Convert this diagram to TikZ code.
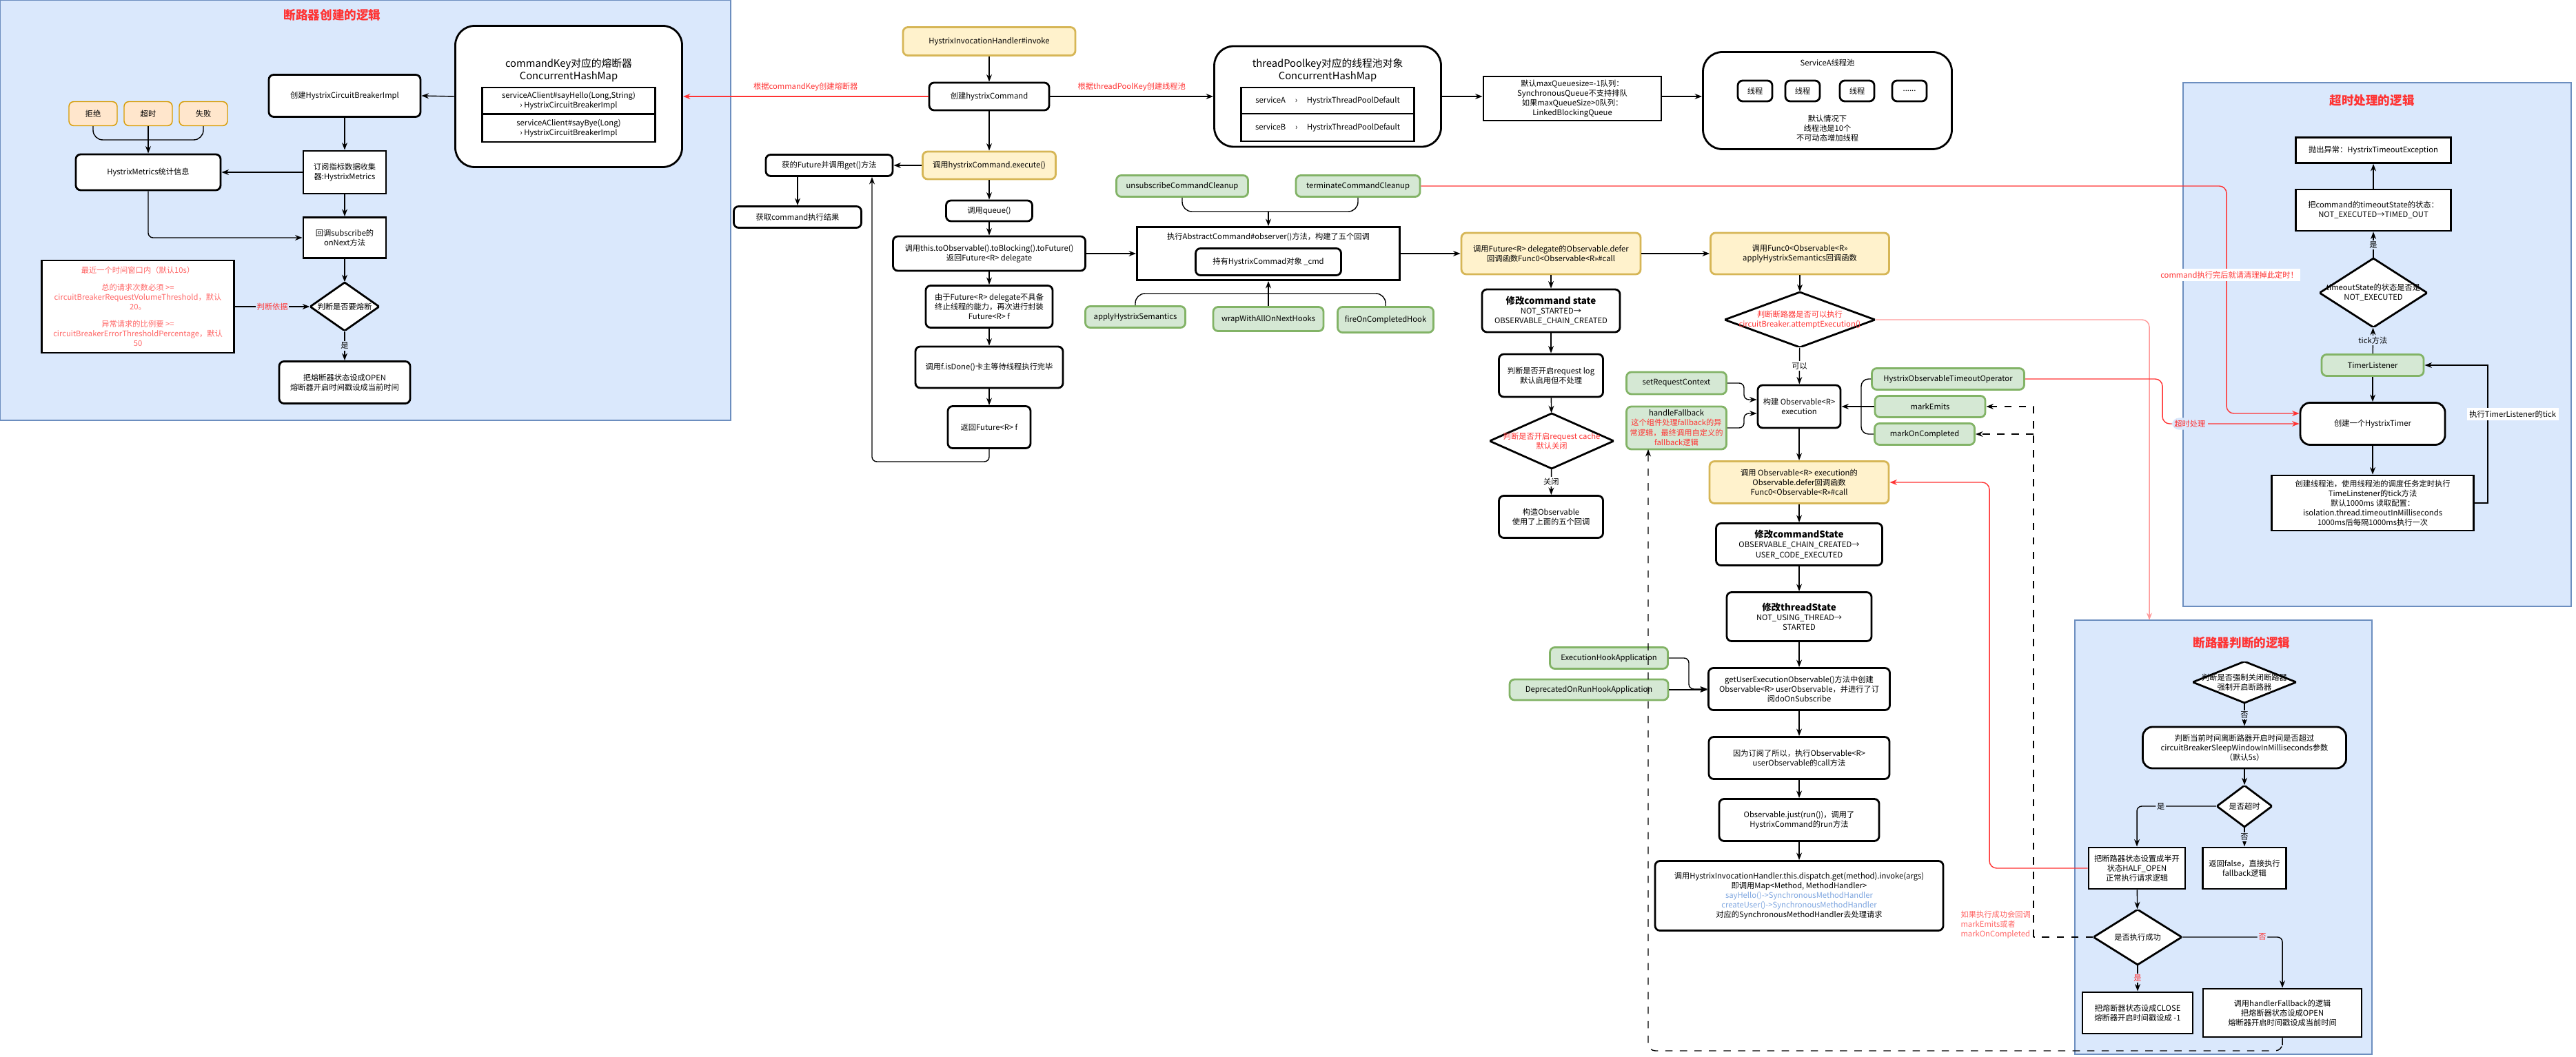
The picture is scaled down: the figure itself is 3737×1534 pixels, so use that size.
\documentclass[tikz,border=0pt]{standalone}
\usepackage{fontspec}
\setmainfont{Noto Sans CJK SC}
\usetikzlibrary{positioning, shapes.geometric, arrows.meta, calc}
\definecolor{panelbg}{HTML}{DAE8FC}
\definecolor{panelline}{HTML}{6C8EBF}
\definecolor{yelbg}{HTML}{FFF2CC}
\definecolor{yelline}{HTML}{D6B656}
\definecolor{grnbg}{HTML}{D5E8D4}
\definecolor{grnline}{HTML}{82B366}
\definecolor{orgbg}{HTML}{FFE6CC}
\definecolor{orgline}{HTML}{D79B00}
\definecolor{myred}{HTML}{FF3333}
\definecolor{mypink}{HTML}{FF9999}
\definecolor{mysoft}{HTML}{FF6666}
\definecolor{myblue}{HTML}{7EA6E0}
\tikzset{
  sz/.style 2 args={minimum width=#1*0.01cm, minimum height=#2*0.01cm},
  txt/.style={font=\fontsize{3.2}{4.0}\selectfont, align=center, inner sep=1pt},
  box/.style={txt, draw, thick, rounded corners=2pt, fill=white},
  sbox/.style={txt, draw, thick, fill=white},
  yel/.style={box, draw=yelline, fill=yelbg},
  grn/.style={box, draw=grnline, fill=grnbg},
  org/.style={txt, draw=orgline, fill=orgbg, rounded corners=2pt},
  dia/.style={txt, inner sep=0pt, path picture={
      \fill[white] (path picture bounding box.north) -- (path picture bounding box.east)
        -- (path picture bounding box.south) -- (path picture bounding box.west) -- cycle;
      \draw[line width=0.8pt] (path picture bounding box.north) -- (path picture bounding box.east)
        -- (path picture bounding box.south) -- (path picture bounding box.west) -- cycle;}},
  panel/.style={draw=panelline, fill=panelbg},
  ptitle/.style={font=\fontsize{5}{6}\selectfont\bfseries, text=myred},
  lbl/.style={txt, fill=white, inner sep=0.5pt},
  plbl/.style={txt, fill=panelbg, inner sep=0.5pt},
  redline/.style={draw=myred, -{Stealth[length=3pt]}},
  link/.style={-{Stealth[length=3pt]}, rounded corners=2pt}
}
\begin{document}
\begin{tikzpicture}[x=0.01cm, y=-0.01cm, >={Stealth[length=3pt]}]
\useasboundingbox (0,0) rectangle (3737,1534);

% panels
\fill[panel] (0,0) rectangle (1060,610);
\fill[panel] (3167,120) rectangle (3730,880);
\fill[panel] (3010,900) rectangle (3441,1530);
\node[ptitle] at (482,22) {断路器创建的逻辑};
\node[ptitle] at (3441,146) {超时处理的逻辑};
\node[ptitle] at (3252,933) {断路器判断的逻辑};

% circuit breaker creation
\node[box, sz={329}{205}, rounded corners=8pt] (cbmap) at (825,140) {};
\node[txt, font=\fontsize{4.2}{5.2}\selectfont] at (825,102) {commandKey对应的熔断器\\ConcurrentHashMap};
\node[sbox, sz={251}{38}] (cbrowa) at (825,146) {serviceAClient\#sayHello(Long,String)\\› HystrixCircuitBreakerImpl};
\node[sbox, sz={251}{40}] (cbrowb) at (825,186) {serviceAClient\#sayBye(Long)\\› HystrixCircuitBreakerImpl};
\node[box, sz={220}{61}] (cbimpl) at (500,139) {创建HystrixCircuitBreakerImpl};
\node[org, sz={70}{35}] (reject) at (135,165) {拒绝};
\node[org, sz={70}{35}] (tmout) at (215,165) {超时};
\node[org, sz={70}{35}] (fail) at (295,165) {失败};
\coordinate (mrg) at (215,203);
\node[box, sz={210}{52}] (metrics) at (215,250) {HystrixMetrics统计信息};
\node[sbox, sz={120}{62}] (subs) at (500,250) {订阅指标数据收集\\器:HystrixMetrics};
\node[sbox, sz={120}{59}] (onnext) at (500,345) {回调subscribe的\\onNext方法};
\node[dia, sz={100}{70}] (isbreak) at (500,445) {判断是否要熔断};
\node[sbox, sz={279}{134}, text=mysoft] (rule) at (200,445) {最近一个时间窗口内（默认10s）\\[3pt]总的请求次数必须 >=\\circuitBreakerRequestVolumeThreshold，默认\\20。\\[3pt]异常请求的比例要 >=\\circuitBreakerErrorThresholdPercentage，默认\\50};
\node[box, sz={190}{61}] (open1) at (500,555) {把熔断器状态设成OPEN\\熔断器开启时间戳设成当前时间};

\draw[->] (cbmap.west) -- (cbimpl.east);
\draw[->] (cbimpl) -- (subs);
\draw[->] (subs) -- (metrics);
\draw[->] (subs) -- (onnext);
\draw[link] (metrics.south) |- (onnext.west);
\draw[rounded corners=4pt] (reject.south) |- (mrg) -| (fail.south);
\draw[->] (tmout) -- (metrics);
\draw[->] (onnext) -- (isbreak);
\draw[->] (isbreak) -- node[plbl]{是} (open1);
\draw[->] (rule) -- node[plbl, text=myred]{判断依据} (isbreak);

% main call chain
\node[yel, sz={250}{41}] (invoke) at (1435,60) {HystrixInvocationHandler\#invoke};
\node[box, sz={174}{40}] (mkcmd) at (1435,140) {创建hystrixCommand};
\node[box, sz={329}{146}, rounded corners=8pt] (poolmap) at (1926,140) {};
\node[txt, font=\fontsize{4.2}{5.2}\selectfont] at (1926,102) {threadPoolkey对应的线程池对象\\ConcurrentHashMap};
\node[sbox, sz={251}{38}] (prowa) at (1926,146) {serviceA \quad › \quad HystrixThreadPoolDefault};
\node[sbox, sz={251}{40}] (prowb) at (1926,185) {serviceB \quad › \quad HystrixThreadPoolDefault};
\node[sbox, sz={258}{64}] (queuecfg) at (2281,143) {默认maxQueuesize=-1队列：\\SynchronousQueue不支持排队\\如果maxQueueSize>0队列：\\LinkedBlockingQueue};
\node[box, sz={361}{141}, rounded corners=8pt] (pool) at (2651,146) {};
\node[txt] at (2651,91) {ServiceA线程池};
\foreach \tx/\tn [count=\i] in {2546/线程, 2615/线程, 2694/线程, 2770/{......}}
  \node[box, sz={50}{30}] (thr\i) at (\tx,132) {\tn};
\node[txt] at (2651,186) {默认情况下\\线程池是10个\\不可动态增加线程};
\node[yel, sz={193}{40}] (execute) at (1435,240) {调用hystrixCommand.execute()};
\node[box, sz={184}{31}] (getfut) at (1203,240) {获的Future并调用get()方法};
\node[box, sz={185}{31}] (result) at (1157,315) {获取command执行结果};
\node[box, sz={125}{30}] (queue) at (1435,306) {调用queue()};
\node[box, sz={279}{50}] (toobs) at (1435,368) {调用this.toObservable().toBlocking().toFuture()\\返回Future<R> delegate};
\node[box, sz={184}{61}] (wrapf) at (1435,445) {由于Future<R> delegate不具备\\终止线程的能力，再次进行封装\\Future<R> f};
\node[box, sz={214}{60}] (isdone) at (1435,533) {调用f.isDone()卡主等待线程执行完毕};
\node[box, sz={120}{61}] (retf) at (1435,620) {返回Future<R> f};
\coordinate (loopc) at (1265,670);

\draw[->] (invoke) -- (mkcmd);
\draw[->] (mkcmd) -- (execute);
\draw[->] (execute) -- (queue);
\draw[->] (queue) -- (toobs);
\draw[->] (toobs) -- (wrapf);
\draw[->] (wrapf) -- (isdone);
\draw[->] (isdone) -- (retf);
\draw[->] (execute) -- (getfut);
\draw[->] (getfut.south -| result.north) -- (result.north);
\draw[link] (retf.south) |- (loopc) -- (getfut.south -| loopc);
\draw[redline] (mkcmd.west) -- node[txt, above=1pt, text=myred]{根据commandKey创建熔断器} (cbmap.east);
\draw[->] (mkcmd.east) -- node[txt, above=1pt, text=myred]{根据threadPoolKey创建线程池} (poolmap.west);
\draw[->] (poolmap.east) -- (queuecfg.west |- poolmap.east);
\draw[->] (queuecfg.east |- poolmap.east) -- (pool.west |- poolmap.east);

% observe callbacks
\node[grn, sz={191}{31}] (unsub) at (1715,270) {unsubscribeCommandCleanup};
\node[grn, sz={180}{31}] (terminate) at (1970,270) {terminateCommandCleanup};
\node[sbox, sz={381}{77}] (abscmd) at (1840,368) {};
\node[txt] at (1840,344) {执行AbstractCommand\#observer()方法，构建了五个回调};
\node[box, sz={211}{39}] (holdcmd) at (1840,380) {持有HystrixCommad对象 \_cmd};
\node[grn, sz={145}{31}] (applysem) at (1647,460) {applyHystrixSemantics};
\node[grn, sz={160}{35}] (wrapnext) at (1840,463) {wrapWithAllOnNextHooks};
\node[grn, sz={139}{37}] (fireon) at (2010,464) {fireOnCompletedHook};
\coordinate (absin) at (1840,307);
\coordinate (absout) at (1840,426);
\draw[rounded corners=4pt] (unsub.south) |- (absin) -| (terminate.south);
\draw[->] (absin) -- (abscmd.north);
\draw[rounded corners=4pt] (applysem.north) |- (absout) -| (fireon.north);
\draw[->] (wrapnext.north) -- (abscmd.south);
\draw[->] (toobs.east) -- (abscmd.west);

% defer chain
\node[yel, sz={260}{60}] (defer) at (2250,368) {调用Future<R> delegate的Observable.defer\\回调函数Func0<Observable<R>>\#call};
\node[yel, sz={259}{60}] (func0) at (2611,368) {调用Func0<Observable<R>>\\applyHystrixSemantics回调函数};
\node[box, sz={200}{62}] (cmdstate) at (2250,451) {{\bfseries\fontsize{3.8}{4.6}\selectfont 修改command state}\\NOT\_STARTED→\\OBSERVABLE\_CHAIN\_CREATED};
\node[box, sz={151}{62}] (reqlog) at (2250,545) {判断是否开启request log\\默认启用但不处理};
\node[dia, sz={180}{80}, text=myred] (cache) at (2251,640) {判断是否开启request cache\\默认关闭};
\node[box, sz={151}{61}] (mkobs) at (2250,750) {构造Observable\\使用了上面的五个回调};
\node[dia, sz={218}{80}, text=myred] (attempt) at (2611,464) {判断断路器是否可以执行\\circuitBreaker.attemptExecution()};
\draw[->] (abscmd.east) -- (defer.west);
\draw[->] (defer) -- (func0);
\draw[->] (defer) -- (cmdstate);
\draw[->] (cmdstate) -- (reqlog);
\draw[->] (reqlog) -- (cache);
\draw[->] (cache) -- node[lbl]{关闭} (mkobs);
\draw[->] (func0) -- (attempt);

% execution
\node[grn, sz={145}{32}] (setctx) at (2432,556) {setRequestContext};
\node[grn, sz={145}{62}] (hfb) at (2432,621) {handleFallback\\{\color{myred}这个组件处理fallback的异}\\{\color{myred}常逻辑，最终调用自定义的}\\{\color{myred}fallback逻辑}};
\node[box, sz={120}{62}] (buildexe) at (2610,590) {构建 Observable<R>\\execution};
\node[grn, sz={221}{31}] (toop) at (2826,550) {HystrixObservableTimeoutOperator};
\node[grn, sz={160}{31}] (memits) at (2800,590) {markEmits};
\node[grn, sz={145}{31}] (mcompl) at (2792,630) {markOnCompleted};
\node[yel, sz={260}{61}] (callexe) at (2610,700) {调用 Observable<R> execution的\\Observable.defer回调函数\\Func0<Observable<R>>\#call};
\node[box, sz={241}{61}] (cstate2) at (2610,790) {{\bfseries\fontsize{3.8}{4.6}\selectfont 修改commandState}\\OBSERVABLE\_CHAIN\_CREATED→\\USER\_CODE\_EXECUTED};
\node[box, sz={210}{71}] (tstate) at (2610,895) {{\bfseries\fontsize{3.8}{4.6}\selectfont 修改threadState}\\NOT\_USING\_THREAD→\\STARTED};
\node[grn, sz={171}{31}] (ehook) at (2334,955) {ExecutionHookApplication};
\node[grn, sz={230}{30}] (dhook) at (2305,1001) {DeprecatedOnRunHookApplication};
\node[box, sz={263}{61}] (getuser) at (2610,1000) {getUserExecutionObservable()方法中创建\\Observable<R> userObservable，并进行了订\\阅doOnSubscribe};
\node[box, sz={262}{61}] (subcall) at (2610,1100) {因为订阅了所以，执行Observable<R>\\userObservable的call方法};
\node[box, sz={232}{61}] (justrun) at (2610,1190) {Observable.just(run())，调用了\\HystrixCommand的run方法};
\node[box, sz={418}{101}] (dispatch) at (2610,1300) {调用HystrixInvocationHandler.this.dispatch.get(method).invoke(args)\\即调用Map<Method, MethodHandler>\\{\color{myblue}sayHello()->SynchronousMethodHandler}\\{\color{myblue}createUser()->SynchronousMethodHandler}\\对应的SynchronousMethodHandler去处理请求};
\draw[->] (attempt) -- node[lbl]{可以} (buildexe);
\draw[link] (setctx.east) -| (2530,580) -- (buildexe.west |- 0,580);
\draw[link] (hfb.east) -| (2530,600) -- (buildexe.west |- 0,600);
\draw[rounded corners=3pt] (toop.west) -| (2700,590);
\draw[rounded corners=3pt] (mcompl.west) -| (2700,590);
\draw[->] (memits.west) -- (buildexe.east);
\draw[->] (buildexe) -- (callexe);
\draw[->] (callexe) -- (cstate2);
\draw[->] (cstate2) -- (tstate);
\draw[->] (tstate) -- (getuser);
\draw[->] (getuser) -- (subcall);
\draw[->] (subcall) -- (justrun);
\draw[->] (justrun) -- (dispatch);
\draw[link] (ehook.east) -| (2450,1000) -- (getuser.west);
\draw[->] (dhook.east) -- (getuser.west |- dhook.east);

% timeout logic
\node[sbox, sz={225}{37}] (throwex) at (3443,218) {抛出异常：HystrixTimeoutException};
\node[sbox, sz={225}{60}] (tostate) at (3443,305) {把command的timeoutState的状态：\\NOT\_EXECUTED→TIMED\_OUT};
\node[dia, sz={156}{100}] (todiam) at (3443,425) {timeoutState的状态是否是\\NOT\_EXECUTED};
\node[grn, sz={148}{31}] (tlis) at (3442,530) {TimerListener};
\node[box, sz={210}{61}, rounded corners=4pt] (htimer) at (3442,615) {创建一个HystrixTimer};
\node[sbox, sz={293}{80}] (tpool) at (3442,730) {创建线程池，使用线程池的调度任务定时执行\\TimeLinstener的tick方法\\默认1000ms 读取配置：\\isolation.thread.timeoutInMilliseconds\\1000ms后每隔1000ms执行一次};
\draw[->] (tostate) -- (throwex);
\draw[->] (todiam) -- node[plbl]{是} (tostate);
\draw[->] (tlis) -- node[plbl]{tick方法} (todiam);
\draw[->] (tlis) -- (htimer);
\draw[->] (htimer) -- (tpool);
\draw[->] (tpool.east) -| (3609,530) -- (tlis.east);
\node[txt, fill=white, anchor=west] at (3578,601) {执行TimerListener的tick};

% circuit breaker check logic
\node[dia, sz={150}{60}] (force) at (3256,990) {判断是否强制关闭断路器\\强制开启断路器};
\node[box, sz={295}{60}, rounded corners=4pt] (sleepwin) at (3256,1085) {判断当前时间离断路器开启时间是否超过\\circuitBreakerSleepWindowInMilliseconds参数\\（默认5s）};
\node[dia, sz={80}{60}] (istimeout) at (3256,1170) {是否超时};
\node[sbox, sz={140}{60}] (half) at (3100,1260) {把断路器状态设置成半开\\状态HALF\_OPEN\\正常执行请求逻辑};
\node[sbox, sz={121}{60}] (retfalse) at (3256,1260) {返回false，直接执行\\fallback逻辑};
\node[dia, sz={128}{80}] (success) at (3101,1360) {是否执行成功};
\node[sbox, sz={160}{60}] (close) at (3101,1470) {把熔断器状态设成CLOSE\\熔断器开启时间戳设成 -1};
\node[sbox, sz={230}{70}] (hfb2) at (3311,1470) {调用handlerFallback的逻辑\\把熔断器状态设成OPEN\\熔断器开启时间戳设成当前时间};
\draw[->] (force) -- node[plbl]{否} (sleepwin);
\draw[->] (sleepwin) -- (istimeout);
\draw[link] (istimeout.west) -| node[plbl, pos=0.35]{是} (half.north);
\draw[->] (istimeout) -- node[plbl]{否} (retfalse);
\draw[->] (half) -- (success);
\draw[->] (success) -- node[plbl, text=myred]{是} (close);
\draw[link] (success.east) -| node[plbl, pos=0.4, text=myred]{否} (hfb2.north);

% cross links
\coordinate (dashp) at (2950,1360);
\coordinate (dashb) at (3311,1525);
\coordinate (hfbin) at (2391,652);
\coordinate (cbin) at (3118,900);
\draw[dashed] (success.west) -- (dashp);
\draw[dashed, ->] (dashp) |- (memits.east);
\draw[dashed, ->] (dashp |- mcompl.east) -- (mcompl.east);
\node[txt, text=mysoft, align=left, anchor=south east, fill=white] at (2950,1366) {如果执行成功会回调\\markEmits或者\\markOnCompleted};
\draw[dashed, ->, rounded corners=3pt] (hfb2.south) |- (dashb) -| (hfbin);
\draw[redline, rounded corners=3pt] (half.west) -| (2886,760) |- (callexe.east);
\draw[draw=mypink, ->, rounded corners=3pt] (attempt.east) -| (cbin);
\draw[redline, rounded corners=3pt] (toop.east) -| (3137,615) -- node[txt, text=myred, fill=panelbg, pos=0.2]{超时处理} (htimer.west);
\draw[redline, rounded corners=3pt] (terminate.east) -| (3230,600) -- (htimer.west |- 0,600);
\node[txt, text=myred, fill=white] at (3234,399) {command执行完后就请清理掉此定时！};
\end{tikzpicture}
\end{document}
